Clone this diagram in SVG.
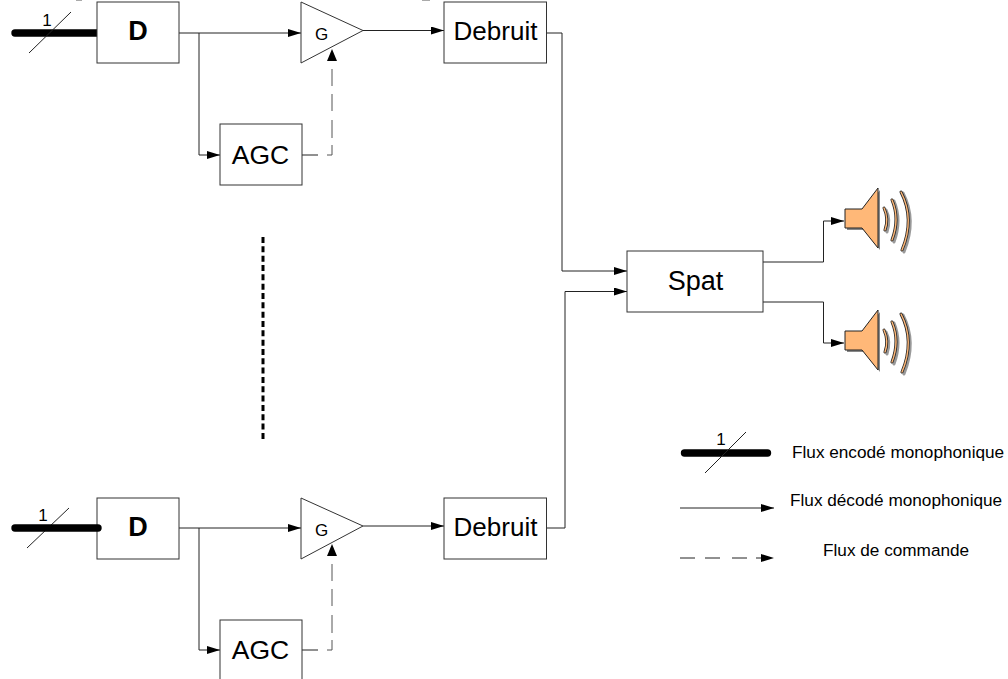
<svg xmlns="http://www.w3.org/2000/svg" width="1008" height="679" viewBox="0 0 1008 679">
<style>
text{font-family:"Liberation Sans",Arial,sans-serif;fill:#000}
.box{fill:#fff;stroke:#333;stroke-width:1}
.w{fill:none;stroke:#222;stroke-width:1}
.d{fill:none;stroke:#555;stroke-width:1}
.bus{fill:none;stroke:#000;stroke-width:7.400;stroke-linecap:round}
.sp{fill:#ffb878;stroke:#222;stroke-width:1;stroke-linejoin:round}
.arc{fill:none;stroke:#222;stroke-width:3;stroke-linecap:round}
.arci{fill:none;stroke:#ffb878;stroke-width:1.400;stroke-linecap:round}
.sh{fill:none;stroke:#999;stroke-width:3;stroke-linecap:round}
</style>
<defs>
<marker id="a" markerUnits="userSpaceOnUse" markerWidth="13" markerHeight="8" refX="13" refY="4" orient="auto"><path d="M0 0L13 4L0 8Z" fill="#000"/></marker>
<g id="spk">
<path d="M0 -1H17L33 -22V38L17 18H0Z" fill="#888" transform="translate(2 2)"/>
<path class="sh" d="M41 0Q46 10 42 22"/><path class="sh" d="M49 -9Q57 10 49 32"/><path class="sh" d="M58 -17Q72 10 59 42"/>
<path class="sp" d="M0 -1H17L33 -22V38L17 18H0Z"/>
<path class="arc" d="M39 -2Q44 9 40 20"/><path class="arci" d="M39 -2Q44 9 40 20"/>
<path class="arc" d="M47 -10Q55 9 47 30"/><path class="arci" d="M47 -10Q55 9 47 30"/>
<path class="arc" d="M56 -18Q70 9 57 40"/><path class="arci" d="M56 -18Q70 9 57 40"/>
</g>
</defs>
<g id="connectors">
<path class="bus" d="M15 33H97"/><path class="w" d="M29 53L71 12"/>
<path class="w" d="M179 33H301" marker-end="url(#a)"/>
<path class="w" d="M199 33V155H220" marker-end="url(#a)"/>
<path class="w" d="M302 155H318"/><path class="d" d="M327 155H332V145M332 138V120M332 111V94M332 86V69"/>
<path d="M332 49L337 61H327Z" fill="#000"/>
<path class="w" d="M363 30.500H444" marker-end="url(#a)"/>
<path class="w" d="M547 33H562V271H627" marker-end="url(#a)"/>
<path class="w" d="M27 548L69 508"/>
<path class="w" d="M179 528H301" marker-end="url(#a)"/>
<path class="w" d="M199 528V650H220" marker-end="url(#a)"/>
<path class="w" d="M302 650H318"/><path class="d" d="M327 650H332V640M332 633V615M332 606V589M332 581V564"/>
<path d="M332 544L337 556H327Z" fill="#000"/>
<path class="w" d="M363 526H444" marker-end="url(#a)"/>
<path class="w" d="M547 528H565V291.500H627" marker-end="url(#a)"/>
<path class="w" d="M763 262H823.500V221H844" marker-end="url(#a)"/>
<path class="w" d="M763 302H823.500V343H844" marker-end="url(#a)"/>
<path d="M263 237V441" fill="none" stroke="#000" stroke-width="3" stroke-dasharray="6 3.330"/>
<path class="bus" d="M684.500 453H767.500"/><path class="w" d="M705 473L746 432"/>
<path class="w" d="M680 508H774" marker-end="url(#a)"/>
<path class="w" d="M680 558H695M705 558H720M732 558H747M756 558H762"/>
<path d="M761 554L774 558L761 562Z" fill="#000"/>
<path d="M76 0H82V1H76ZM422 0H430V1H422Z" fill="#aaa"/>
</g>
<g id="d1"><rect class="box" x="97" y="2" width="82" height="61"/><text x="138" y="40" font-size="27" font-weight="bold" text-anchor="middle">D</text></g>
<text x="47" y="26" font-size="17" text-anchor="middle">1</text>
<g id="g1"><path class="box" d="M301 2V63L363 30.500Z"/><text x="321.500" y="40" font-size="17" text-anchor="middle">G</text></g>
<g id="agc1"><rect class="box" x="220" y="124" width="82" height="61"/><text x="260.500" y="164" font-size="26.500" text-anchor="middle">AGC</text></g>
<g id="deb1"><rect class="box" x="444" y="2" width="102.500" height="61"/><text x="495.500" y="40" font-size="26" text-anchor="middle">Debruit</text></g>
<g id="d2"><rect class="box" x="97" y="498" width="82" height="61"/><text x="138" y="536" font-size="27" font-weight="bold" text-anchor="middle">D</text></g>
<path class="bus" d="M15 528H98"/>
<text x="43" y="521" font-size="17" text-anchor="middle">1</text>
<g id="g2"><path class="box" d="M301 498V559L363 526Z"/><text x="321.500" y="536" font-size="17" text-anchor="middle">G</text></g>
<g id="agc2"><rect class="box" x="220" y="620" width="82" height="61"/><text x="260.500" y="659" font-size="26.500" text-anchor="middle">AGC</text></g>
<g id="deb2"><rect class="box" x="444" y="498" width="102.500" height="61"/><text x="495.500" y="536" font-size="26" text-anchor="middle">Debruit</text></g>
<g id="spat"><rect class="box" x="627" y="251" width="136" height="61"/><text x="695.500" y="290" font-size="27" text-anchor="middle">Spat</text></g>
<use id="spk1" href="#spk" x="845" y="210"/>
<use id="spk2" href="#spk" x="845" y="332"/>
<g id="legend">
<text x="721" y="445" font-size="17" text-anchor="middle">1</text>
<text x="792" y="458" font-size="17.200">Flux encodé monophonique</text>
<text x="790" y="506" font-size="17.200">Flux décodé monophonique</text>
<text x="823" y="556" font-size="17.200">Flux de commande</text>
</g>
</svg>
